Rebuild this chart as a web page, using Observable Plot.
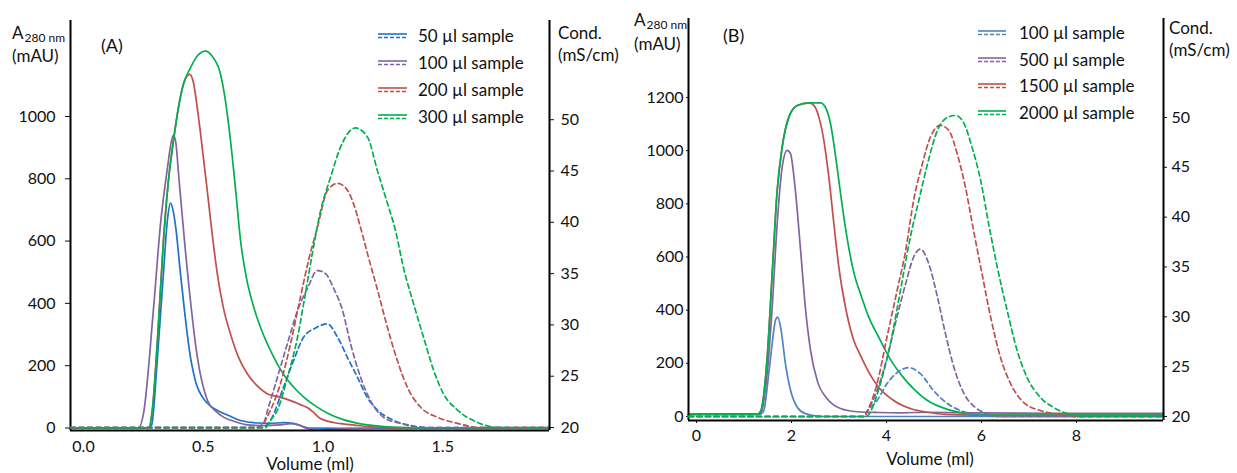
<!DOCTYPE html>
<html><head><meta charset="utf-8">
<script src="https://cdn.jsdelivr.net/npm/d3@7"></script>
<script src="https://cdn.jsdelivr.net/npm/@observablehq/plot@0.6"></script>
<style>
body{margin:0;background:#fff;font-family:Lato,"Open Sans",sans-serif;}
#root{position:relative;width:1237px;height:473px;overflow:hidden;background:#fff;}
.lbl{position:absolute;color:#111;white-space:nowrap;line-height:1;}
</style></head><body><div id="root"></div>
<script>
// ---------- labels / categories ----------
const labelsA = ["50 µl sample","100 µl sample","200 µl sample","300 µl sample"];
const labelsB = ["100 µl sample","500 µl sample","1500 µl sample","2000 µl sample"];
const colorsA = ["#1f72c6","#8064a2","#c0504d","#00b050"];
const colorsB = ["#4f83c4","#8064a2","#c0504d","#00b050"];
const ticksAX = [0,0.5,1.0,1.5];
const ticksAAbs = [0,200,400,600,800,1000];
const ticksBX = [0,2,4,6,8];
const ticksBAbs = [0,200,400,600,800,1000,1200];
const ticksCond = [20,25,30,35,40,45,50];

// ---------- Panel A: absorbance (mAU) vs volume (ml) ----------
const a50 = [[0,0],[0.326,0],[0.339,10],[0.363,226],[0.388,496],[0.405,670],[0.418,722],[0.428,700],[0.440,640],[0.459,497],[0.501,227],[0.526,140],[0.551,99],[0.585,70],[0.614,56],[0.660,40],[0.710,24],[0.781,16],[0.835,15],[0.889,17],[0.931,15],[0.960,8],[0.994,0],[1.2,-1],[2.0,-1]];
const a100 = [[0,0],[0.284,0],[0.305,47],[0.347,387],[0.376,656],[0.405,836],[0.420,915],[0.430,940],[0.440,915],[0.451,817],[0.489,496],[0.530,226],[0.572,88],[0.605,55],[0.639,35],[0.689,20],[0.739,10],[0.793,8],[0.877,10],[0.919,14],[0.952,10],[0.981,0],[1.023,-7],[1.086,-5],[1.169,-2],[1.294,0],[2.0,0]];
const a200 = [[0,0],[0.326,0],[0.342,60],[0.363,280],[0.388,600],[0.409,795],[0.430,923],[0.451,1030],[0.472,1105],[0.497,1135],[0.513,1110],[0.529,1030],[0.550,900],[0.571,762],[0.592,620],[0.613,495],[0.640,380],[0.668,302],[0.700,230],[0.738,174],[0.780,135],[0.821,110],[0.870,100],[0.919,88],[0.960,75],[0.990,65],[1.015,50],[1.040,32],[1.072,22],[1.127,14],[1.2,8],[1.3,2],[1.4,0],[2.0,0]];
const a300 = [[0,0],[0.326,0],[0.342,60],[0.363,280],[0.388,600],[0.409,795],[0.430,923],[0.451,1030],[0.472,1105],[0.497,1150],[0.530,1195],[0.564,1210],[0.593,1192],[0.626,1137],[0.647,1050],[0.668,923],[0.690,760],[0.710,602],[0.735,480],[0.765,388],[0.805,300],[0.849,227],[0.890,172],[0.932,131],[0.980,95],[1.030,67],[1.080,45],[1.127,30],[1.2,15],[1.3,5],[1.4,1],[1.5,0],[2.0,0]];
// Panel A: conductivity (mS/cm)
const c50 = [[0,20],[0.802,20],[0.835,20.7],[0.889,23.9],[0.931,26.5],[0.973,28.8],[1.023,29.7],[1.073,30.1],[1.115,28.8],[1.157,26.8],[1.198,24.9],[1.240,22.9],[1.282,21.7],[1.349,20.7],[1.420,20.2],[1.503,20],[2.0,20]];
const c100 = [[0,20],[0.772,20],[0.806,20.4],[0.823,21.7],[0.864,24.9],[0.906,28.2],[0.948,31.4],[0.990,33.6],[1.031,35.3],[1.065,35.0],[1.098,33.6],[1.136,31.4],[1.169,28.2],[1.211,24.9],[1.253,22.6],[1.307,21.0],[1.378,20.4],[1.461,20],[2.0,20]];
const c200 = [[0,20],[0.785,20],[0.835,21.7],[0.877,24.3],[0.919,28.2],[0.960,32.7],[0.994,36.3],[1.031,39.5],[1.073,43.1],[1.115,43.8],[1.157,43.1],[1.182,41.8],[1.211,39.5],[1.244,36.6],[1.282,33.4],[1.324,29.7],[1.365,26.5],[1.407,23.9],[1.461,22.0],[1.532,21.0],[1.616,20.4],[1.712,20],[2.0,20]];
const c300 = [[0,20],[0.814,20],[0.835,20.7],[0.864,21.7],[0.906,24.9],[0.948,28.8],[0.981,33.1],[1.010,37.0],[1.044,41.1],[1.086,44.4],[1.127,47.3],[1.190,49.2],[1.240,48.3],[1.282,45.0],[1.324,41.8],[1.357,39.2],[1.390,35.6],[1.432,32.1],[1.474,28.8],[1.516,25.6],[1.557,23.3],[1.616,21.7],[1.699,20.5],[1.795,20],[2.0,20]];

// ---------- Panel B: absorbance (mAU) vs volume (ml) ----------
const b100 = [[0,8],[1.5,8],[1.56,15],[1.586,22],[1.69,162],[1.762,275],[1.83,361],[1.88,374],[1.95,324],[2.04,199],[2.15,98],[2.29,35],[2.46,11],[2.71,2],[3.0,0],[10,0]];
const b500 = [[0,10],[1.45,10],[1.516,12],[1.657,162],[1.762,411],[1.867,726],[1.972,938],[2.077,1001],[2.147,989],[2.25,850],[2.36,625],[2.46,411],[2.57,248],[2.71,135],[2.92,67],[3.2,30],[3.55,18],[4.0,15],[4.5,14],[5.0,16],[6.0,14],[8.0,12],[10,12]];
const b1500 = [[0,8],[1.45,8],[1.52,20],[1.657,223],[1.762,537],[1.867,850],[1.972,1013],[2.112,1126],[2.288,1170],[2.533,1180],[2.64,1170],[2.745,1126],[2.85,1038],[2.955,900],[3.06,726],[3.165,562],[3.305,411],[3.48,286],[3.62,230],[3.8,165],[3.97,118],[4.32,60],[4.7,28],[5.03,16],[5.4,8],[6.0,5],[10,5]];
const b2000 = [[0,8],[1.45,8],[1.52,20],[1.657,223],[1.762,537],[1.867,850],[1.972,1013],[2.112,1126],[2.288,1170],[2.533,1180],[2.78,1180],[2.88,1164],[2.99,1101],[3.1,975],[3.2,840],[3.3,715],[3.4,610],[3.5,528],[3.62,462],[3.8,372],[4.0,300],[4.25,215],[4.5,152],[4.75,102],[5.03,60],[5.45,27],[5.87,11],[6.5,5],[10,5]];
// Panel B: conductivity (mS/cm)
const d100 = [[0,20],[3.7,20],[3.76,20.5],[3.97,21.6],[4.18,23.3],[4.39,24.4],[4.64,24.9],[4.88,24.3],[5.16,22.6],[5.45,21.3],[5.73,20.6],[6.08,20.2],[6.5,20],[10,20]];
const d500 = [[0,20],[3.7,20],[3.76,20.5],[3.97,22.6],[4.18,25.9],[4.39,30.0],[4.57,33.3],[4.74,36.0],[4.88,36.8],[5.06,35.3],[5.24,32.0],[5.41,28.3],[5.59,24.9],[5.8,22.3],[6.04,20.9],[6.28,20.3],[6.6,20],[10,20]];
const d1500 = [[0,20],[3.7,20],[3.76,20.5],[3.97,23.3],[4.18,28.0],[4.39,32.6],[4.57,36.6],[4.74,41.7],[4.92,45.3],[5.09,48.0],[5.3,49.2],[5.48,48.7],[5.66,46.3],[5.83,43.0],[6.0,38.7],[6.18,34.3],[6.36,30.0],[6.57,25.9],[6.78,23.3],[7.06,21.4],[7.41,20.6],[7.83,20.2],[8.2,20],[10,20]];
const d2000 = [[0,20],[3.75,20],[3.83,20.5],[4.04,23.3],[4.25,27.3],[4.46,32.6],[4.67,38.0],[4.85,41.7],[5.03,45.3],[5.24,48.7],[5.45,50.0],[5.62,50.2],[5.8,49.4],[5.97,47.0],[6.15,43.7],[6.32,39.3],[6.5,35.0],[6.71,30.6],[6.92,26.6],[7.13,23.9],[7.41,21.9],[7.69,20.9],[7.97,20.3],[8.3,20],[10,20]];

// ---------- drawing ----------
const FONT = "Lato, 'Open Sans', sans-serif";
const root = document.getElementById("root");

function makePanel(o) {
  const base = {width:o.w, height:o.h, marginLeft:o.ml, marginRight:o.mr, marginTop:o.mt, marginBottom:o.mb,
    style:{fontFamily:FONT, fontSize:o.fs+"px", color:"#111", background:"transparent", overflow:"visible"}};
  const absPlot = Plot.plot({...base,
    x:{domain:o.xDomain}, y:{domain:o.absDomain},
    marks:[
      ...o.solid.map((d,i)=>Plot.line(d,{x:p=>p[0], y:p=>p[1], stroke:o.colors[i], strokeWidth:1.7, curve:"monotone-x"})),
      Plot.ruleX([o.xDomain[0]],{stroke:"#000", strokeWidth:2}),
      Plot.ruleY([o.absDomain[0]],{stroke:"#000", strokeWidth:2.2}),
      Plot.axisY(o.absTicks,{anchor:"left", tickSize:o.yTickSize, tickPadding:o.yTickPad, label:null, tickFormat:d=>String(d), fontSize:o.fs}),
      Plot.axisX(o.xTicks,{anchor:"bottom", tickSize:o.xTickSize, tickPadding:o.xTickPad, dx:o.xdx, label:null, tickFormat:o.xFmt, fontSize:o.fs})
    ]});
  const condPlot = Plot.plot({...base,
    x:{domain:o.xDomain, axis:null}, y:{domain:o.condDomain},
    marks:[
      ...o.dashed.map((d,i)=>Plot.line(d,{x:p=>p[0], y:p=>p[1], stroke:o.colors[i], strokeWidth:1.7, strokeDasharray:"5,3.5", curve:"monotone-x"})),
      Plot.ruleX([o.xDomain[1]],{stroke:"#000", strokeWidth:2}),
      Plot.axisY(ticksCond,{anchor:"right", tickSize:o.rTickSize, tickPadding:o.rTickPad, label:null, tickFormat:d=>String(d), fontSize:o.fs})
    ]});
  for (const p of [absPlot, condPlot]) {
    p.style.position = "absolute";
    p.style.left = o.left + "px";
    p.style.top = "0px";
    root.appendChild(p);
  }
}

makePanel({left:0, w:640, h:473, ml:70, mr:91, mt:20, mb:43, fs:16,
  xDomain:[0,2], absDomain:[-8,1308], condDomain:[19.71,59.67],
  xTicks:ticksAX, absTicks:ticksAAbs, xFmt:d=>d.toFixed(1), xdx:13,
  yTickSize:5, yTickPad:10, xTickSize:0, xTickPad:10, rTickSize:4, rTickPad:7,
  solid:[a50,a100,a200,a300], dashed:[c50,c100,c200,c300], colors:colorsA});

makePanel({left:620, w:617, h:473, ml:68, mr:74, mt:18, mb:53, fs:16,
  xDomain:[0,10], absDomain:[-15,1497], condDomain:[19.6,59.93],
  xTicks:ticksBX, absTicks:ticksBAbs, xFmt:d=>String(d), xdx:8,
  yTickSize:2, yTickPad:3, xTickSize:3, xTickPad:6, rTickSize:3, rTickPad:5,
  solid:[b100,b500,b1500,b2000], dashed:[d100,d500,d1500,d2000], colors:colorsB});

function text(html, left, top, size, extra) {
  const d = document.createElement("div");
  d.className = "lbl";
  d.style.left = left + "px";
  d.style.top = top + "px";
  d.style.fontSize = size + "px";
  if (extra) d.style.cssText += extra;
  d.innerHTML = html;
  root.appendChild(d);
}
const A280 = 'A<span style="font-size:12px;position:relative;top:3px;margin-left:1px">280 nm</span>';
// Panel A texts
text(A280, 12, 24, 17);
text("(mAU)", 12, 47, 17);
text("(A)", 101, 36, 18);
text("Cond.", 558, 24, 17);
text("(mS/cm)", 558, 46, 17);
text("Volume (ml)", 310, 455, 17, "transform:translateX(-50%)");
// Panel B texts
text(A280, 634, 11, 17);
text("(mAU)", 634, 35, 17);
text("(B)", 723, 26, 18);
text("Cond.", 1169, 19, 17);
text("(mS/cm)", 1169, 41, 17);
text("Volume (ml)", 930, 450, 17, "transform:translateX(-50%)");

function legend(swLeft, swW, textLeft, y0, step, labels, colors) {
  labels.forEach((t,i)=>{
    const y = y0 + i*step;
    const s = document.createElementNS("http://www.w3.org/2000/svg","svg");
    s.setAttribute("width", swW); s.setAttribute("height", 8);
    s.style.cssText = `position:absolute;left:${swLeft}px;top:${y-4}px`;
    s.innerHTML = `<line x1="0" x2="${swW}" y1="2" y2="2" stroke="${colors[i]}" stroke-width="1.6"/>` +
      `<line x1="0" x2="${swW}" y1="5.5" y2="5.5" stroke="${colors[i]}" stroke-width="1.6" stroke-dasharray="4,2"/>`;
    root.appendChild(s);
    text(t, textLeft, y-9, 17);
  });
}
legend(378, 29, 418, 36, 27, labelsA, colorsA);
legend(978, 28, 1019, 33, 26.5, labelsB, colorsB);
</script></body></html>
